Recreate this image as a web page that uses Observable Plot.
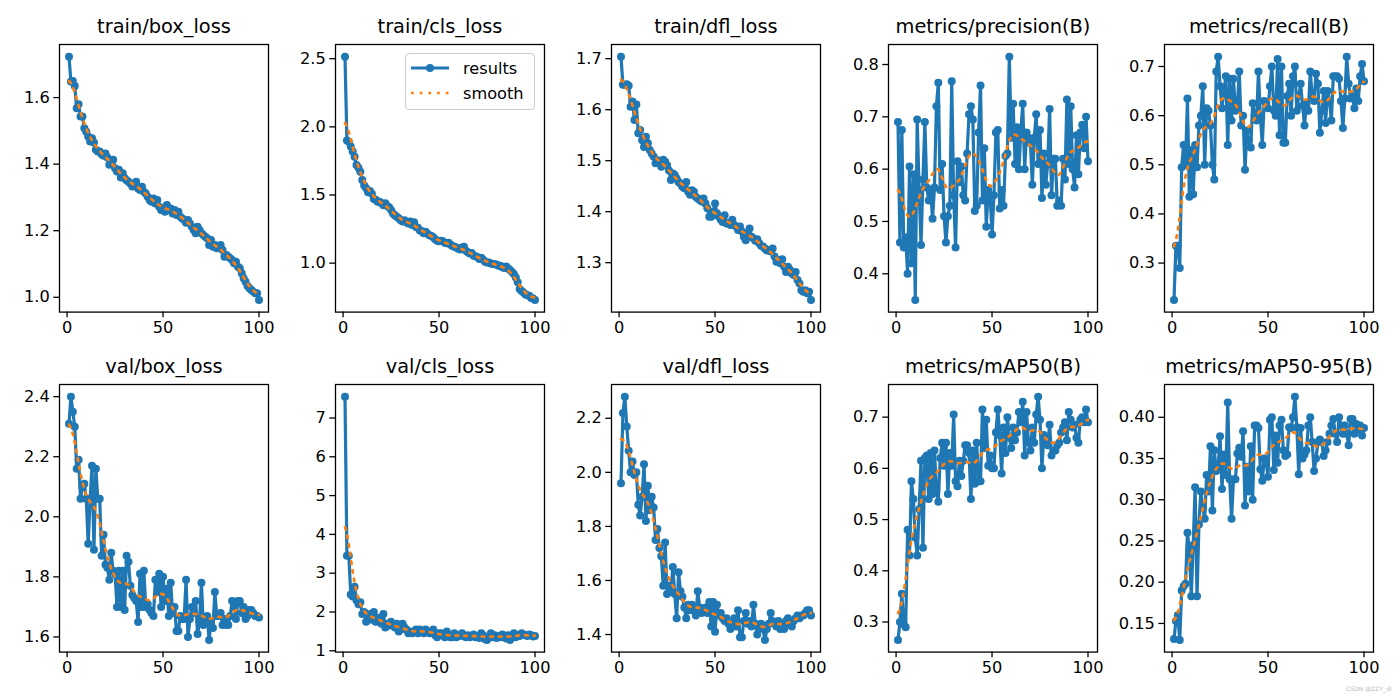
<!DOCTYPE html>
<html>
<head>
<meta charset="utf-8">
<script src="https://cdn.jsdelivr.net/npm/d3@7"></script>
<script src="https://cdn.jsdelivr.net/npm/@observablehq/plot@0.6"></script>
<style>
  html, body { margin: 0; padding: 0; background: #fff; }
  #fig { position: relative; width: 1400px; height: 700px; overflow: hidden; font-family: "DejaVu Sans", sans-serif; }
  #fig > svg { position: absolute; }
  #legend { position: absolute; box-sizing: border-box; border: 1.2px solid #cccccc; border-radius: 4px; background: rgba(255,255,255,0.8); font: 16.2px "DejaVu Sans"; color: #000; }
  #legend .row { position: absolute; left: 0; height: 20px; display: flex; align-items: center; }
  #wm { position: absolute; font: 6px "DejaVu Sans"; color: #b8b8b8; }
</style>
</head>
<body>
<div id="fig"></div>
<script>
const epochs = d3.range(1, 101);

const titles = ["train/box_loss", "train/cls_loss", "train/dfl_loss", "metrics/precision(B)", "metrics/recall(B)",
                "val/box_loss", "val/cls_loss", "val/dfl_loss", "metrics/mAP50(B)", "metrics/mAP50-95(B)"];

const trainBoxLoss = [
1.723,1.648,1.650,1.635,1.568,1.580,1.543,1.543,1.508,1.497,
1.483,1.468,1.478,1.465,1.443,1.438,1.438,1.430,1.425,1.432,
1.420,1.398,1.403,1.413,1.388,1.378,1.383,1.360,1.373,1.358,
1.352,1.347,1.342,1.333,1.337,1.347,1.327,1.322,1.332,1.317,
1.312,1.302,1.292,1.287,1.297,1.282,1.292,1.272,1.262,1.267,
1.257,1.277,1.262,1.267,1.252,1.262,1.247,1.257,1.242,1.237,
1.232,1.224,1.232,1.222,1.212,1.202,1.192,1.212,1.202,1.192,
1.187,1.182,1.177,1.157,1.172,1.152,1.157,1.147,1.152,1.157,
1.142,1.122,1.127,1.122,1.117,1.112,1.102,1.107,1.092,1.087,
1.072,1.057,1.047,1.034,1.027,1.022,1.017,1.012,1.012,0.992];

const trainClsLoss = [
2.515,1.900,1.890,1.855,1.820,1.780,1.720,1.700,1.670,1.610,
1.570,1.550,1.520,1.530,1.510,1.470,1.465,1.450,1.450,1.440,
1.425,1.440,1.420,1.410,1.390,1.365,1.350,1.340,1.330,1.315,
1.305,1.315,1.300,1.290,1.305,1.280,1.300,1.265,1.260,1.240,
1.235,1.220,1.230,1.215,1.205,1.200,1.190,1.175,1.165,1.160,
1.165,1.160,1.150,1.145,1.150,1.135,1.125,1.120,1.115,1.105,
1.100,1.115,1.120,1.090,1.080,1.070,1.075,1.055,1.050,1.045,
1.030,1.040,1.025,1.010,1.005,1.005,0.998,0.993,0.993,0.988,
0.980,0.980,0.970,0.965,0.975,0.960,0.950,0.935,0.920,0.895,
0.860,0.810,0.795,0.785,0.770,0.765,0.760,0.745,0.740,0.730];

const trainDflLoss = [
1.704,1.649,1.649,1.650,1.647,1.606,1.616,1.580,1.610,1.554,
1.560,1.540,1.527,1.547,1.534,1.521,1.514,1.508,1.495,1.501,
1.498,1.488,1.502,1.498,1.491,1.481,1.462,1.475,1.472,1.465,
1.458,1.455,1.449,1.446,1.458,1.439,1.433,1.442,1.439,1.429,
1.426,1.423,1.420,1.426,1.416,1.407,1.390,1.390,1.400,1.416,
1.397,1.390,1.384,1.380,1.393,1.377,1.378,1.374,1.384,1.374,
1.371,1.364,1.371,1.361,1.351,1.344,1.358,1.367,1.351,1.348,
1.343,1.346,1.338,1.333,1.332,1.328,1.324,1.325,1.322,1.328,
1.312,1.302,1.305,1.299,1.307,1.292,1.282,1.292,1.286,1.279,
1.276,1.282,1.266,1.259,1.246,1.243,1.246,1.240,1.243,1.227];

const precision = [
0.690,0.460,0.675,0.450,0.470,0.400,0.605,0.420,0.590,0.350,
0.695,0.560,0.455,0.580,0.690,0.565,0.540,0.560,0.505,0.565,
0.720,0.765,0.560,0.610,0.510,0.460,0.510,0.530,0.768,0.550,
0.450,0.615,0.575,0.605,0.550,0.540,0.630,0.705,0.720,0.695,
0.520,0.530,0.670,0.760,0.540,0.640,0.490,0.560,0.550,0.475,
0.550,0.670,0.675,0.525,0.560,0.530,0.625,0.630,0.815,0.660,
0.725,0.610,0.680,0.600,0.670,0.725,0.600,0.670,0.660,0.650,
0.570,0.660,0.705,0.610,0.675,0.545,0.630,0.570,0.610,0.715,
0.550,0.620,0.620,0.530,0.540,0.530,0.620,0.580,0.733,0.610,
0.720,0.600,0.565,0.665,0.590,0.670,0.685,0.640,0.700,0.615];

const recall = [
0.225,0.335,0.335,0.290,0.495,0.540,0.500,0.635,0.435,0.530,
0.440,0.540,0.495,0.580,0.600,0.660,0.500,0.615,0.610,0.580,
0.500,0.470,0.690,0.720,0.660,0.615,0.650,0.680,0.540,0.675,
0.590,0.675,0.610,0.620,0.690,0.580,0.600,0.490,0.570,0.550,
0.535,0.625,0.600,0.590,0.690,0.600,0.540,0.630,0.625,0.615,
0.660,0.700,0.610,0.600,0.715,0.560,0.700,0.545,0.545,0.640,
0.665,0.600,0.680,0.700,0.610,0.640,0.665,0.620,0.580,0.625,
0.610,0.690,0.640,0.630,0.685,0.665,0.565,0.610,0.650,0.585,
0.650,0.630,0.590,0.680,0.680,0.680,0.675,0.630,0.575,0.635,
0.720,0.665,0.635,0.640,0.615,0.655,0.630,0.680,0.705,0.670];

const valBoxLoss = [
2.310,2.400,2.350,2.300,2.160,2.190,2.060,2.100,2.110,2.060,
1.910,2.060,2.170,1.890,2.160,2.060,2.060,1.870,1.940,1.840,
1.830,1.790,1.880,1.820,1.810,1.700,1.820,1.700,1.820,1.690,
1.870,1.850,1.770,1.740,1.730,1.720,1.650,1.810,1.700,1.820,
1.700,1.710,1.690,1.680,1.670,1.790,1.750,1.810,1.700,1.800,
1.720,1.760,1.670,1.780,1.680,1.700,1.620,1.620,1.670,1.660,
1.660,1.790,1.600,1.660,1.700,1.680,1.720,1.610,1.650,1.780,
1.640,1.660,1.670,1.590,1.650,1.630,1.750,1.670,1.670,1.680,
1.640,1.660,1.640,1.640,1.670,1.720,1.700,1.660,1.720,1.720,
1.680,1.700,1.660,1.670,1.690,1.690,1.680,1.670,1.670,1.665];

const valClsLoss = [
7.550,3.450,3.450,2.450,2.400,2.650,2.300,2.200,2.250,1.950,
2.000,1.750,1.850,1.950,1.800,2.000,1.750,1.850,1.750,1.700,
1.950,1.600,1.700,1.650,1.750,1.650,1.600,1.700,1.500,1.550,
1.700,1.600,1.550,1.450,1.500,1.450,1.500,1.550,1.450,1.550,
1.500,1.450,1.550,1.500,1.450,1.500,1.550,1.400,1.350,1.450,
1.450,1.400,1.350,1.500,1.400,1.350,1.350,1.450,1.350,1.400,
1.380,1.450,1.380,1.350,1.400,1.350,1.380,1.420,1.350,1.380,
1.330,1.450,1.400,1.300,1.280,1.350,1.450,1.350,1.400,1.330,
1.380,1.350,1.420,1.350,1.320,1.400,1.280,1.380,1.450,1.350,
1.400,1.380,1.450,1.420,1.400,1.380,1.420,1.400,1.370,1.380];

const valDflLoss = [
1.960,2.220,2.280,2.170,2.080,2.000,2.040,1.990,2.000,1.880,
1.840,1.910,2.030,1.820,1.950,1.860,1.910,1.870,1.750,1.790,
1.720,1.690,1.580,1.740,1.550,1.580,1.560,1.650,1.550,1.460,
1.630,1.560,1.540,1.500,1.460,1.510,1.490,1.510,1.490,1.470,
1.560,1.500,1.480,1.490,1.500,1.480,1.520,1.430,1.520,1.410,
1.510,1.470,1.480,1.460,1.450,1.460,1.440,1.420,1.440,1.460,
1.430,1.490,1.390,1.390,1.450,1.480,1.440,1.450,1.430,1.510,
1.440,1.400,1.430,1.440,1.420,1.380,1.420,1.440,1.480,1.450,
1.440,1.430,1.450,1.420,1.440,1.420,1.450,1.460,1.440,1.430,
1.450,1.460,1.470,1.460,1.470,1.470,1.480,1.490,1.490,1.470];

const mAP50 = [
0.265,0.300,0.355,0.295,0.290,0.480,0.430,0.575,0.540,0.465,
0.430,0.520,0.615,0.445,0.620,0.625,0.540,0.630,0.550,0.635,
0.560,0.535,0.620,0.650,0.605,0.650,0.550,0.630,0.605,0.705,
0.575,0.565,0.615,0.585,0.615,0.645,0.645,0.630,0.540,0.635,
0.570,0.650,0.575,0.575,0.715,0.640,0.695,0.605,0.625,0.600,
0.600,0.670,0.715,0.665,0.590,0.680,0.630,0.700,0.660,0.640,
0.680,0.655,0.670,0.710,0.690,0.730,0.625,0.710,0.650,0.635,
0.680,0.650,0.705,0.740,0.695,0.600,0.665,0.660,0.645,0.685,
0.625,0.635,0.635,0.645,0.650,0.670,0.680,0.690,0.655,0.710,
0.695,0.680,0.685,0.660,0.650,0.695,0.700,0.690,0.715,0.690];

const mAP5095 = [
0.131,0.153,0.160,0.130,0.190,0.195,0.198,0.260,0.240,0.183,
0.245,0.315,0.183,0.270,0.310,0.290,0.277,0.330,0.310,0.365,
0.287,0.360,0.335,0.340,0.377,0.313,0.355,0.330,0.418,0.325,
0.277,0.325,0.325,0.356,0.363,0.352,0.383,0.293,0.340,0.310,
0.365,0.300,0.390,0.390,0.387,0.337,0.323,0.350,0.345,0.328,
0.397,0.400,0.336,0.378,0.345,0.390,0.397,0.360,0.353,0.355,
0.388,0.387,0.400,0.425,0.388,0.331,0.387,0.350,0.355,0.360,
0.390,0.400,0.370,0.335,0.350,0.370,0.373,0.370,0.353,0.360,
0.370,0.380,0.390,0.398,0.380,0.370,0.400,0.390,0.380,0.390,
0.380,0.366,0.398,0.398,0.380,0.392,0.385,0.390,0.378,0.387];

const xTicks = [0, 50, 100];
const yTicks = [
  [1.0, 1.2, 1.4, 1.6],
  [1.0, 1.5, 2.0, 2.5],
  [1.3, 1.4, 1.5, 1.6, 1.7],
  [0.4, 0.5, 0.6, 0.7, 0.8],
  [0.3, 0.4, 0.5, 0.6, 0.7],
  [1.6, 1.8, 2.0, 2.2, 2.4],
  [1, 2, 3, 4, 5, 6, 7],
  [1.4, 1.6, 1.8, 2.0, 2.2],
  [0.3, 0.4, 0.5, 0.6, 0.7],
  [0.15, 0.20, 0.25, 0.30, 0.35, 0.40]
];
const yFormats = [".1f", ".1f", ".1f", ".1f", ".1f", ".1f", "d", ".1f", ".1f", ".2f"];
const series = [trainBoxLoss, trainClsLoss, trainDflLoss, precision, recall,
                valBoxLoss, valClsLoss, valDflLoss, mAP50, mAP5095];

const BLUE = "#1f77b4", ORANGE = "#ff7f0e";
const DOTW = 2.7, DOTDASH = "2.7 6";

// scipy.ndimage.gaussian_filter1d(y, sigma=3), mode "reflect", truncate 4
function gaussianSmooth(y, sigma) {
  const radius = Math.floor(4 * sigma + 0.5);
  const w = [];
  for (let k = -radius; k <= radius; k++) w.push(Math.exp(-0.5 * k * k / (sigma * sigma)));
  const sw = d3.sum(w);
  const n = y.length;
  const idx = i => { while (i < 0 || i >= n) { if (i < 0) i = -i - 1; if (i >= n) i = 2 * n - i - 1; } return i; };
  return y.map((_, i) => {
    let s = 0;
    for (let k = -radius; k <= radius; k++) s += w[k + radius] * y[idx(i + k)];
    return s / sw;
  });
}

const fig = document.getElementById("fig");
const AX_W = 209, AX_H = 267.6;
const ML = 60, MR = 10, MT = 46, MB = 40;
const colLeft = [58.7, 335, 611.3, 887.7, 1164];
const rowTop = [43.7, 384.3];

const xs = d3.extent(epochs), xr = xs[1] - xs[0];
const xDomain = [xs[0] - 0.05 * xr, xs[1] + 0.05 * xr];

series.forEach((vals, i) => {
  const data = epochs.map((e, j) => ({x: e, y: vals[j]}));
  const sm = gaussianSmooth(vals, 3);
  const smooth = epochs.map((e, j) => ({x: e, y: sm[j]}));
  const ext = d3.extent(vals), r = ext[1] - ext[0];
  const yDomain = [ext[0] - 0.05 * r, ext[1] + 0.05 * r];
  const fmt = d3.format(yFormats[i]);
  const chart = Plot.plot({
    width: ML + AX_W + MR,
    height: MT + AX_H + MB,
    marginLeft: ML, marginRight: MR, marginTop: MT, marginBottom: MB,
    x: {domain: xDomain},
    y: {domain: yDomain},
    style: {fontFamily: "DejaVu Sans", fontSize: "16.2px", color: "#000", background: "transparent", overflow: "visible"},
    marks: [
      Plot.axisX({ticks: xTicks, tickSize: 5.7, tickPadding: 4, tickFormat: d => String(d), label: null, strokeWidth: 1.3}),
      Plot.axisY({ticks: yTicks[i], tickSize: 5.7, tickPadding: 4, tickFormat: fmt, label: null, strokeWidth: 1.3}),
      Plot.line(data, {x: "x", y: "y", stroke: BLUE, strokeWidth: 3.2}),
      Plot.dot(data, {x: "x", y: "y", r: 4, fill: BLUE}),
      Plot.line(smooth, {x: "x", y: "y", stroke: ORANGE, strokeWidth: DOTW, strokeDasharray: DOTDASH}),
      Plot.frame({stroke: "#000", strokeWidth: 1.3}),
      Plot.text([titles[i]], {frameAnchor: "top", dy: -11, lineAnchor: "bottom", fontSize: 19.4, fill: "#000"})
    ]
  });
  const col = i % 5, row = Math.floor(i / 5);
  chart.style.left = (colLeft[col] - ML) + "px";
  chart.style.top = (rowTop[row] - MT) + "px";
  fig.appendChild(chart);
});

// legend (in the train/cls_loss panel)
const legend = document.createElement("div");
legend.id = "legend";
legend.style.left = "405px"; legend.style.top = "53px";
legend.style.width = "130px"; legend.style.height = "57px";
legend.innerHTML = `
  <div class="row" style="top:4px">
    <svg width="48" height="20" style="margin-left:4px"><line x1="1" y1="10" x2="39" y2="10" stroke="${BLUE}" stroke-width="3.2"/><circle cx="20" cy="10" r="4" fill="${BLUE}"/></svg>
    <span style="margin-left:5px">results</span>
  </div>
  <div class="row" style="top:29px">
    <svg width="48" height="20" style="margin-left:4px"><line x1="1" y1="10" x2="39" y2="10" stroke="${ORANGE}" stroke-width="${DOTW}" stroke-dasharray="${DOTDASH}"/></svg>
    <span style="margin-left:5px">smooth</span>
  </div>`;
fig.appendChild(legend);

const wm = document.createElement("div");
wm.id = "wm";
wm.style.left = "1346px"; wm.style.top = "685px";
wm.textContent = "CSDN @ZZY_dl";
fig.appendChild(wm);
</script>
</body>
</html>
